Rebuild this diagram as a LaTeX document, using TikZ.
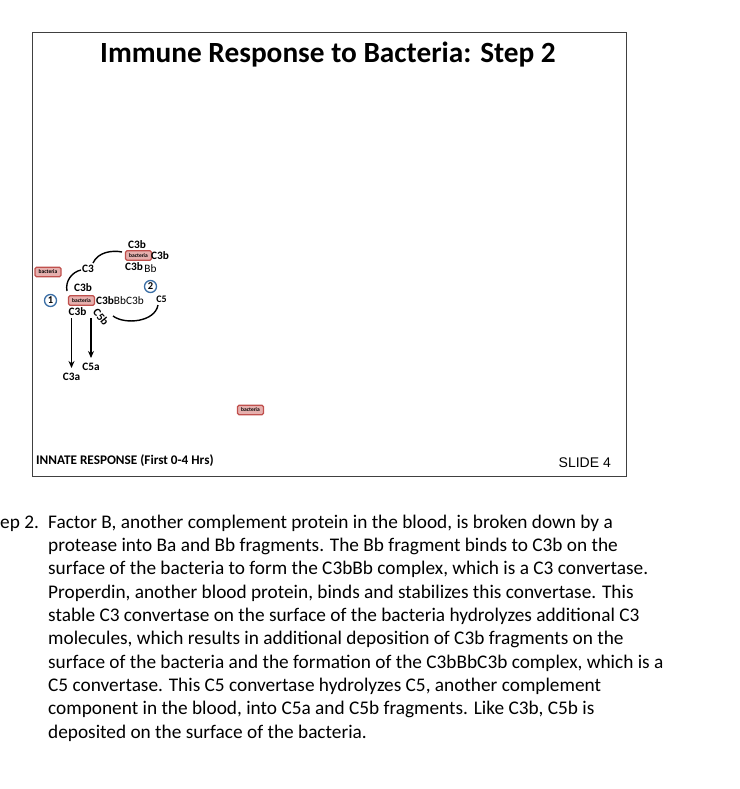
\documentclass[tikz,border=0pt]{standalone}
\usepackage{fontspec}
\setmainfont{Carlito}
\newfontfamily\arialfont{Liberation Sans}
\usetikzlibrary{arrows.meta}
\definecolor{bactred}{HTML}{C0504D}
\definecolor{bactfill}{HTML}{E6B0AE}
\definecolor{numblue}{HTML}{3A6EA5}
\definecolor{framegray}{HTML}{404040}
\begin{document}
\begin{tikzpicture}[x=1pt,y=-1pt,
 bact/.style={draw=bactred, fill=bactfill, line width=1.1pt, rounded corners=1.5pt, minimum width=26pt, minimum height=9.5pt, inner sep=0pt, font=\fontsize{5.5}{6}\selectfont\bfseries},
 lbl/.style={font=\fontsize{11.3}{12}\selectfont\bfseries, inner sep=0pt},
 num/.style={circle, draw=numblue, line width=1.3pt, fill=white, minimum size=12pt, inner sep=0pt, font=\fontsize{10.5}{10}\selectfont\bfseries},
 curve/.style={line width=1.4pt},
 arr/.style={line width=1.4pt, -{Stealth[length=7pt,width=6pt]}},
 para/.style={anchor=base west, inner sep=0pt, font=\fontsize{19.3}{22}\selectfont}
]
\useasboundingbox (0,0) rectangle (739,789);
\fill[white] (0,0) rectangle (739,789);
% slide frame
\node[draw=framegray, line width=0.8pt, minimum width=594pt, minimum height=444pt, inner sep=0pt, anchor=north west] (frame) at (32,32) {};
\node[inner sep=0pt, font=\fontsize{29.3}{32}\selectfont\bfseries] (title) at (328,55) {Immune Response to Bacteria: Step 2};
\node[inner sep=0pt, anchor=base west, font=\fontsize{13.2}{14}\selectfont\bfseries] (footer) at (36,464) {INNATE RESPONSE (First 0-4 Hrs)};
\node[inner sep=0pt, anchor=base east, font=\arialfont\fontsize{14}{15}\selectfont] (slide) at (611,467) {SLIDE 4};

% bacteria boxes
\node[bact] (b0) at (48,272) {bacteria};
\node[bact] (b1) at (138.5,255.5) {bacteria};
\node[bact] (b2) at (81.5,300.5) {bacteria};
\node[bact] (b3) at (250.5,410) {bacteria};

% labels
\node[lbl] (c3top) at (137,245) {C3b};
\node[lbl] (c3right) at (160,255.5) {C3b};
\node[lbl] (c3bb1) at (134,267) {C3b};
\node[lbl, font=\fontsize{11.3}{12}\selectfont] (bb1) at (150.5,268.5) {Bb};
\node[lbl] (c3) at (88,269) {C3};
\node[lbl] (c3above) at (83,288) {C3b};
\node[lbl, anchor=west] (conv) at (96,300.5) {C3b\textmd{Bb}\textmd{C3b}};
\node[lbl, font=\fontsize{10}{10}\selectfont\bfseries] (c5) at (161.5,299) {C5};
\node[lbl] (c3below) at (77.5,311.5) {C3b};
\node[lbl, rotate=-50] (c5b) at (101,317) {C5b};
\node[lbl] (c3a) at (71.5,377) {C3a};
\node[lbl] (c5a) at (91,367) {C5a};
\node[num] (n1) at (50.5,300.5) {1};
\node[num] (n2) at (150.5,286.5) {2};

% curves
\coordinate (a1s) at (67,291);
\coordinate (a1e) at (81,270);
\draw[curve] (a1s) .. controls (65,281) and (72,272) .. (a1e);
\coordinate (a2s) at (93,263);
\coordinate (a2e) at (122,252);
\draw[curve] (a2s) .. controls (98,252) and (112,250) .. (a2e);
\coordinate (a3s) at (158,305);
\coordinate (a3e) at (113,316);
\draw[curve] (a3s) .. controls (155,322) and (125,325) .. (a3e);
% arrows
\coordinate (ar1s) at (71.5,318);
\coordinate (ar1e) at (71.5,368);
\draw[arr] (ar1s) -- (ar1e);
\coordinate (ar2s) at (91,318);
\coordinate (ar2e) at (91,358);
\draw[arr] (ar2s) -- (ar2e);

% paragraph
\node[para] (p0) at (0,528) {ep 2.};
\node[para] (p1) at (48,528) {Factor B, another complement protein in the blood, is broken down by a};
\node[para] (p2) at (48,551.3) {protease into Ba and Bb fragments. The Bb fragment binds to C3b on the};
\node[para] (p3) at (48,574.7) {surface of the bacteria to form the C3bBb complex, which is a C3 convertase.};
\node[para] (p4) at (48,598) {Properdin, another blood protein, binds and stabilizes this convertase. This};
\node[para] (p5) at (48,621.3) {stable C3 convertase on the surface of the bacteria hydrolyzes additional C3};
\node[para] (p6) at (48,644.7) {molecules, which results in additional deposition of C3b fragments on the};
\node[para] (p7) at (48,668) {surface of the bacteria and the formation of the C3bBbC3b complex, which is a};
\node[para] (p8) at (48,691.3) {C5 convertase. This C5 convertase hydrolyzes C5, another complement};
\node[para] (p9) at (48,714.7) {component in the blood, into C5a and C5b fragments. Like C3b, C5b is};
\node[para] (p10) at (48,738) {deposited on the surface of the bacteria.};
\end{tikzpicture}
\end{document}
